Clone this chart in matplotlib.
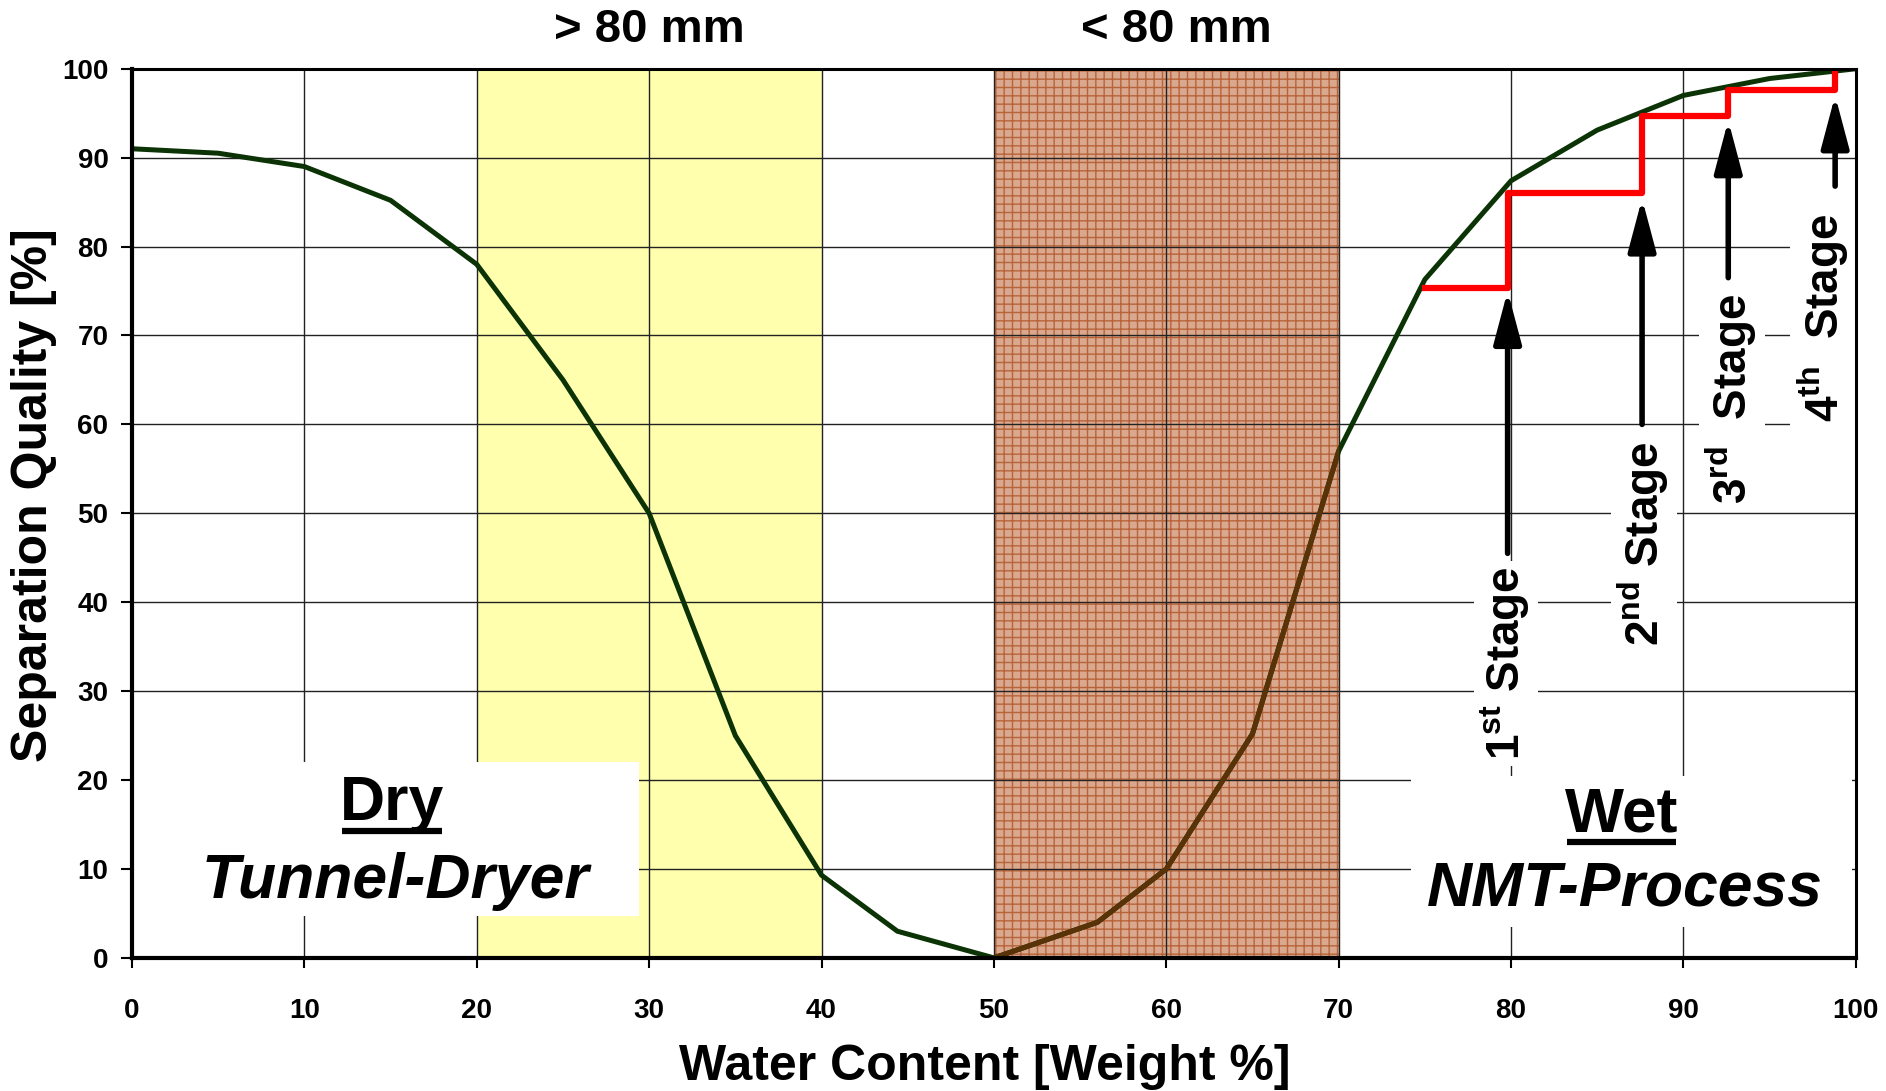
import matplotlib
matplotlib.use("Agg")
import matplotlib.pyplot as plt
from matplotlib.patches import Rectangle
from matplotlib.lines import Line2D

plt.rcParams['font.family'] = ['Liberation Sans', 'DejaVu Sans']
plt.rcParams['font.weight'] = 'bold'
plt.rcParams['mathtext.fontset'] = 'custom'
plt.rcParams['mathtext.rm'] = 'Liberation Sans:bold'
plt.rcParams['mathtext.bf'] = 'Liberation Sans:bold'
plt.rcParams['hatch.linewidth'] = 1.0

# separation quality curve
water = [0, 5, 10, 15, 20, 25, 30, 35, 40, 44.4, 50, 56, 60, 65, 70, 75, 80, 85, 90, 95, 100]
quality = [91, 90.5, 89, 85.2, 78, 65, 50, 25, 9.3, 3, 0, 4, 10, 25.2, 57, 76.3, 87.4, 93.1, 97.0, 98.9, 100]

# stepwise NMT process (red)
step_x = [75, 79.8, 87.6, 92.6, 98.8]
step_y = [75.3, 86.0, 94.7, 97.6, 99.6]

# stage arrows and labels
stage_x = [79.8, 87.6, 92.6, 98.8]
arrow_tip = [75.0, 85.4, 94.2, 97.0]
arrow_tail = [45.5, 60.0, 76.5, 86.8]
label_x = [79.7, 87.7, 92.8, 98.1]
label_y = [33.1, 46.6, 62.9, 72.0]
stage_labels = [r"1$^{\mathbf{st}}$ Stage", r"2$^{\mathbf{nd}}$ Stage",
                r"3$^{\mathbf{rd}}$  Stage", r"4$^{\mathbf{th}}$  Stage"]

# shaded size ranges
coarse_range = (20, 40)
fine_range = (50, 70)

fig = plt.figure(figsize=(18.86, 10.91), dpi=100)
ax = fig.add_axes([0.070, 0.122, 0.914, 0.815])

ax.axvspan(*coarse_range, facecolor='#FFFFAE', edgecolor='none', zorder=0)
fine_span = ax.axvspan(*fine_range, facecolor='#D9A88E', edgecolor='#B8643A', hatch='++', lw=0, zorder=0)

ax.set_xlim(0, 100)
ax.set_ylim(0, 100)
ax.set_xticks(range(0, 101, 10))
ax.set_yticks(range(0, 101, 10))
ax.grid(True, color='#222222', lw=1.0, zorder=1)
ax.set_axisbelow(True)

ax.plot(water, quality, color='#0B3305', lw=3.6, zorder=2, solid_joinstyle='miter')
# inside the fine range the curve shows through the brown fill
brown_curve, = ax.plot(water, quality, color='#5A3208', lw=3.6, zorder=2.2, solid_joinstyle='miter')
brown_curve.set_clip_path(fine_span)

ax.step(step_x, step_y, where='post', color='#FF0000', lw=4.5, zorder=3)

for x, tip, tail in zip(stage_x, arrow_tip, arrow_tail):
    ax.annotate('', xy=(x, tip), xytext=(x, tail),
                arrowprops=dict(arrowstyle='-|>,head_length=3.2,head_width=0.85',
                                mutation_scale=10, lw=4, color='black',
                                shrinkA=0, shrinkB=0), zorder=4)

for x, y, s in zip(label_x, label_y, stage_labels):
    ax.text(x, y, s, rotation=90, ha='center', va='center', fontsize=33,
            fontweight='bold', zorder=5,
            bbox=dict(facecolor='white', edgecolor='none', pad=4))

# white text boxes
ax.add_patch(Rectangle((0, 4.7), 29.4, 17.3, facecolor='white', edgecolor='none', zorder=4))
ax.add_patch(Rectangle((74.2, 3.5), 25.6, 17.0, facecolor='white', edgecolor='none', zorder=4))

dry = ax.text(15.1, 17.4, 'Dry', ha='center', va='center', fontsize=45, fontweight='bold', zorder=5)
ax.text(15.3, 8.6, 'Tunnel-Dryer', ha='center', va='center', fontsize=45,
        fontweight='bold', fontstyle='italic', zorder=5)
wet = ax.text(86.4, 16.1, 'Wet', ha='center', va='center', fontsize=45, fontweight='bold', zorder=5)
ax.text(86.6, 7.7, 'NMT-Process', ha='center', va='center', fontsize=45,
        fontweight='bold', fontstyle='italic', zorder=5)

ax.text(30, 104.3, '> 80 mm', ha='center', va='center', fontsize=34, fontweight='bold', clip_on=False)
ax.text(60.6, 104.3, '< 80 mm', ha='center', va='center', fontsize=34, fontweight='bold', clip_on=False)

for sp in ax.spines.values():
    sp.set_linewidth(2.2)
    sp.set_zorder(6)
ax.spines['left'].set_linewidth(3)
ax.spines['bottom'].set_linewidth(3)

ax.tick_params(axis='x', direction='out', length=7, width=1.5, pad=22, labelsize=20)
ax.tick_params(axis='y', direction='out', length=8, width=1.5, pad=9, labelsize=20)
for lab in ax.get_xticklabels() + ax.get_yticklabels():
    lab.set_fontweight('bold')

fig.text(0.522, 0.022, 'Water Content [Weight %]', ha='center', va='center', fontsize=36, fontweight='bold')
fig.text(0.018, 0.546, 'Separation Quality [%]', ha='center', va='center', rotation=90,
         fontsize=36, fontweight='bold')

# underline Dry / Wet
fig.canvas.draw()
for t in (dry, wet):
    bb = t.get_window_extent()
    y0 = bb.y0 + 2
    fig.add_artist(Line2D([bb.x0 + 2, bb.x1 - 2], [y0, y0], transform=None,
                          color='black', lw=4.5, solid_capstyle='butt', zorder=6))

fig.savefig('out.png', dpi=100)
